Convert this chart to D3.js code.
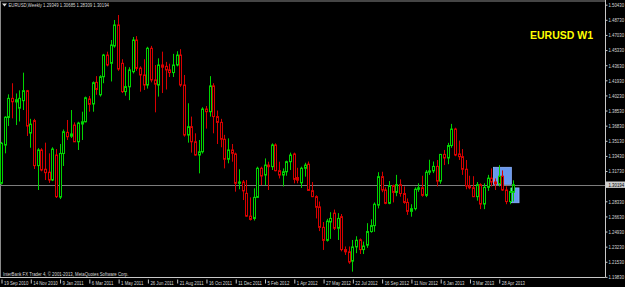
<!DOCTYPE html>
<html>
<head>
<meta charset="utf-8">
<script src="https://cdn.jsdelivr.net/npm/d3@7"></script>
<style>
body { margin: 0; background: #000; }
svg { display: block; }
text { font-family: "Liberation Sans", Arial, sans-serif; }
</style>
</head>
<body>
<div id="chart"></div>
<script>
//Chart data (weekly EURUSD candles, first bar = week of 19 Sep 2010)
var symbol = "EURUSD";
var period = "Weekly";
var tag = "EURUSD W1";
var copyright = "InterBank FX Trader 4, \u00a9 2001-2013, MetaQuotes Software Corp.";

var open = [1.3035, 1.3465, 1.3775, 1.3990, 1.3950, 1.3880, 1.3964, 1.4076, 1.3600, 1.3740,
    1.3234, 1.3410, 1.3193, 1.3160, 1.3072, 1.3353, 1.2880, 1.3370, 1.3608, 1.3565,
    1.3690, 1.3502, 1.3702, 1.3727, 1.3983, 1.3927, 1.4170, 1.4030, 1.4233, 1.4477,
    1.4384, 1.4579, 1.4815, 1.4384, 1.4066, 1.4120, 1.4290, 1.4646, 1.4330, 1.4253,
    1.4140, 1.4553, 1.4197, 1.4140, 1.4365, 1.4350, 1.4310, 1.4280, 1.4365, 1.4477,
    1.4140, 1.3578, 1.3672, 1.3502, 1.3353, 1.3390, 1.3870, 1.3840, 1.4130, 1.3785,
    1.3720, 1.3530, 1.3306, 1.3410, 1.3365, 1.3035, 1.3050, 1.2922, 1.2666, 1.2640,
    1.2877, 1.3204, 1.3128, 1.3240, 1.3222, 1.3466, 1.3177, 1.3128, 1.3165, 1.3278,
    1.3365, 1.3100, 1.3040, 1.3204, 1.3250, 1.2952, 1.2885, 1.2770, 1.2540, 1.2394,
    1.2600, 1.2700, 1.2530, 1.2660, 1.2290, 1.2265, 1.2160, 1.2320, 1.2400, 1.2290,
    1.2340, 1.2493, 1.2560, 1.2790, 1.3110, 1.2960, 1.2810, 1.3008, 1.2933, 1.3020,
    1.2920, 1.2820, 1.2720, 1.2750, 1.2968, 1.2985, 1.2900, 1.3160, 1.3175, 1.3225,
    1.3060, 1.3360, 1.3320, 1.3460, 1.3645, 1.3365, 1.3335, 1.3193, 1.3005, 1.2985,
    1.2885, 1.3020, 1.2802, 1.2990, 1.3093, 1.3050, 1.3030, 1.3115, 1.2960, 1.2830,
    1.29349];
var high = [1.3500, 1.3790, 1.4035, 1.4160, 1.4045, 1.4080, 1.4279, 1.4085, 1.3760, 1.3760,
    1.3430, 1.3430, 1.3492, 1.3372, 1.3440, 1.3420, 1.3477, 1.3640, 1.3747, 1.3859,
    1.3720, 1.3727, 1.3840, 1.4010, 1.4017, 1.4180, 1.4240, 1.4250, 1.4490, 1.4515,
    1.4646, 1.4871, 1.4927, 1.4430, 1.4345, 1.4340, 1.4680, 1.4690, 1.4350, 1.4430,
    1.4570, 1.4580, 1.4365, 1.4440, 1.4515, 1.4400, 1.4380, 1.4490, 1.4520, 1.4543,
    1.4253, 1.3935, 1.3785, 1.3597, 1.3522, 1.3890, 1.3904, 1.4240, 1.4160, 1.3853,
    1.3760, 1.3580, 1.3540, 1.3477, 1.3380, 1.3193, 1.3072, 1.3072, 1.2877, 1.2979,
    1.3222, 1.3222, 1.3315, 1.3278, 1.3484, 1.3484, 1.3278, 1.3203, 1.3290, 1.3380,
    1.3380, 1.3210, 1.3222, 1.3266, 1.3280, 1.3050, 1.2900, 1.2830, 1.2600, 1.2636,
    1.2710, 1.2740, 1.2700, 1.2690, 1.2325, 1.2325, 1.2398, 1.2440, 1.2415, 1.2380,
    1.2587, 1.2630, 1.2820, 1.3160, 1.3165, 1.2990, 1.3060, 1.3020, 1.3130, 1.3080,
    1.3000, 1.2865, 1.2800, 1.2990, 1.3035, 1.3120, 1.3185, 1.3300, 1.3280, 1.3297,
    1.3365, 1.3410, 1.3490, 1.3703, 1.3660, 1.3515, 1.3420, 1.3297, 1.3120, 1.3115,
    1.3050, 1.3035, 1.3035, 1.3130, 1.3203, 1.3090, 1.3240, 1.3180, 1.3000, 1.2985,
    1.30685];
var low = [1.3020, 1.3372, 1.3680, 1.3765, 1.3690, 1.3730, 1.3859, 1.3567, 1.3435, 1.3196,
    1.2960, 1.3170, 1.3072, 1.3040, 1.3060, 1.2870, 1.2858, 1.3230, 1.3522, 1.3545,
    1.3500, 1.3410, 1.3522, 1.3720, 1.3840, 1.3840, 1.4030, 1.4010, 1.4160, 1.4350,
    1.4180, 1.4560, 1.4300, 1.4050, 1.4020, 1.3970, 1.4270, 1.4300, 1.4065, 1.4084,
    1.4100, 1.4170, 1.3833, 1.4010, 1.4050, 1.4090, 1.4230, 1.4230, 1.4350, 1.4120,
    1.3560, 1.3492, 1.3380, 1.3345, 1.3147, 1.3370, 1.3650, 1.3785, 1.3597, 1.3477,
    1.3440, 1.3203, 1.3260, 1.3278, 1.2941, 1.2968, 1.2847, 1.2658, 1.2617, 1.2617,
    1.2870, 1.3015, 1.3015, 1.2960, 1.3185, 1.3170, 1.3090, 1.3000, 1.3120, 1.3185,
    1.3035, 1.3035, 1.2983, 1.3110, 1.2950, 1.2880, 1.2640, 1.2498, 1.2286, 1.2380,
    1.2410, 1.2510, 1.2398, 1.2270, 1.2230, 1.2130, 1.2042, 1.2250, 1.2240, 1.2240,
    1.2310, 1.2480, 1.2490, 1.2753, 1.2935, 1.2800, 1.2800, 1.2820, 1.2890, 1.2885,
    1.2805, 1.2680, 1.2660, 1.2730, 1.2940, 1.2885, 1.2880, 1.3130, 1.3150, 1.3000,
    1.3030, 1.3240, 1.3250, 1.3435, 1.3340, 1.3297, 1.3130, 1.2968, 1.2968, 1.2880,
    1.2840, 1.2745, 1.2745, 1.2950, 1.3000, 1.2960, 1.3000, 1.2950, 1.2800, 1.2800,
    1.28309];
var close = [1.3485, 1.3778, 1.3990, 1.3952, 1.3975, 1.3990, 1.4076, 1.3679, 1.3700, 1.3234,
    1.3410, 1.3185, 1.3155, 1.3072, 1.3420, 1.2885, 1.3371, 1.3615, 1.3559, 1.3590,
    1.3502, 1.3712, 1.3727, 1.3997, 1.3923, 1.4166, 1.4090, 1.4233, 1.4477, 1.4365,
    1.4590, 1.4815, 1.4320, 1.4066, 1.4122, 1.4310, 1.4646, 1.4327, 1.4253, 1.4140,
    1.4553, 1.4197, 1.4150, 1.4365, 1.4340, 1.4310, 1.4280, 1.4365, 1.4477, 1.4140,
    1.3578, 1.3672, 1.3502, 1.3353, 1.3390, 1.3870, 1.3840, 1.4130, 1.3785, 1.3720,
    1.3530, 1.3306, 1.3410, 1.3372, 1.3035, 1.3050, 1.2950, 1.2666, 1.2629, 1.2877,
    1.3204, 1.3117, 1.3240, 1.3222, 1.3466, 1.3177, 1.3128, 1.3165, 1.3278, 1.3353,
    1.3080, 1.3070, 1.3204, 1.3240, 1.2955, 1.2885, 1.2766, 1.2540, 1.2394, 1.2610,
    1.2640, 1.2530, 1.2640, 1.2290, 1.2265, 1.2150, 1.2320, 1.2395, 1.2290, 1.2330,
    1.2493, 1.2560, 1.2800, 1.3110, 1.2960, 1.2810, 1.3008, 1.2933, 1.3020, 1.2920,
    1.2820, 1.2720, 1.2750, 1.2968, 1.2985, 1.2900, 1.3160, 1.3175, 1.3225, 1.3060,
    1.3360, 1.3320, 1.3460, 1.3645, 1.3353, 1.3335, 1.3193, 1.3005, 1.2985, 1.2885,
    1.3020, 1.2802, 1.2990, 1.3093, 1.3050, 1.3030, 1.3115, 1.2960, 1.2830, 1.2943,
    1.30194];

//Time labels, one every 8 bars
var tickLabels = ["19 Sep 2010", "14 Nov 2010", "9 Jan 2011", "6 Mar 2011", "1 May 2011",
    "26 Jun 2011", "21 Aug 2011", "16 Oct 2011", "11 Dec 2011", "5 Feb 2012", "1 Apr 2012",
    "27 May 2012", "22 Jul 2012", "16 Sep 2012", "11 Nov 2012", "6 Jan 2013", "3 Mar 2013",
    "28 Apr 2013"];
var priceTicks = [1.50430, 1.48730, 1.47030, 1.45330, 1.43630, 1.41930, 1.40230, 1.38530,
    1.36830, 1.35130, 1.33430, 1.31730, 1.28330, 1.26630, 1.24930, 1.23230, 1.21530, 1.19830];

//Blue rectangle objects (bar index span, price span)
var boxStart = [134.4, 139.3];
var boxEnd = [139.3, 141.4];
var boxTop = [1.3215, 1.2983];
var boxBottom = [1.3024, 1.2817];

//Global settings
var width = 625, height = 287;
var axisX = 605.5, axisY = 277.5;
var bullColor = "#00d400", bearColor = "#d80000";
var textColor = "#d8d8d8";
var squeeze = 0.83;

var svg = d3.select("#chart").append("svg")
    .attr("width", width)
    .attr("height", height)
    .style("background", "#000");

var x = d3.scaleLinear().domain([0, 140]).range([1.5, 513.9]);
var y = d3.scaleLinear().domain([1.19830, 1.50430]).range([276.9, 4.7]);

var bars = d3.range(open.length).map(function (i) {
    return { i: i, o: open[i], h: high[i], l: low[i], c: close[i] };
});

//Frame
svg.append("line").attr("x1", 0).attr("x2", axisX).attr("y1", 1).attr("y2", 1)
    .attr("stroke", "#8a8a8a");
svg.append("line").attr("x1", 0.5).attr("x2", 0.5).attr("y1", 1).attr("y2", axisY)
    .attr("stroke", "#8a8a8a");

//Rectangles (behind candles)
svg.append("g").selectAll("rect")
    .data(boxStart)
    .enter()
    .append("rect")
    .attr("x", function (d) { return x(d); })
    .attr("width", function (d, i) { return x(boxEnd[i]) - x(d); })
    .attr("y", function (d, i) { return y(boxTop[i]); })
    .attr("height", function (d, i) { return y(boxBottom[i]) - y(boxTop[i]); })
    .attr("fill", "#6898ee")
    .attr("stroke", "#8fb4ff")
    .attr("stroke-width", 0.8);

//Bid line
var bid = close[close.length - 1];
svg.append("line")
    .attr("x1", 0).attr("x2", axisX)
    .attr("y1", Math.round(y(bid)) + 0.5).attr("y2", Math.round(y(bid)) + 0.5)
    .attr("stroke", "#7c7c7c");

//Candles
function cx(d) { return Math.floor(x(d.i)) + 0.5; }
function col(d) { return d.c >= d.o ? bullColor : bearColor; }

var candles = svg.append("g").selectAll("g")
    .data(bars)
    .enter()
    .append("g");

candles.append("line")
    .attr("x1", cx).attr("x2", cx)
    .attr("y1", function (d) { return y(d.h); })
    .attr("y2", function (d) { return y(d.l); })
    .attr("stroke", col);

candles.append("rect")
    .attr("x", function (d) { return cx(d) - 1; })
    .attr("width", 2)
    .attr("y", function (d) { return y(Math.max(d.o, d.c)); })
    .attr("height", function (d) { return Math.max(1, Math.abs(y(d.o) - y(d.c))); })
    .attr("fill", "#000")
    .attr("stroke", col);

//Price axis
svg.append("line").attr("x1", axisX).attr("x2", axisX).attr("y1", 0).attr("y2", axisY)
    .attr("stroke", "#c8c8c8");
var yAxis = svg.append("g")
    .attr("transform", "translate(" + axisX + ",0)")
    .call(d3.axisRight(y).tickValues(priceTicks).tickFormat(d3.format(".5f")).tickSize(2));
yAxis.select(".domain").remove();
yAxis.selectAll("line").attr("stroke", "#c8c8c8");
yAxis.selectAll("text")
    .attr("x", 3 / squeeze)
    .attr("dy", "0.35em")
    .attr("transform", "scale(" + squeeze + ",1)")
    .style("font-size", "5.2px")
    .style("font-family", "Liberation Sans, Arial, sans-serif")
    .attr("fill", textColor);

//Bid label
var bidG = svg.append("g").attr("transform", "translate(" + (axisX + 0.5) + "," + y(bid) + ")");
bidG.append("rect").attr("x", 0).attr("y", -3.2).attr("width", width - axisX).attr("height", 6.4)
    .attr("fill", "#cfcfcf");
bidG.append("text")
    .attr("x", 2.5 / squeeze).attr("dy", "0.35em")
    .attr("transform", "scale(" + squeeze + ",1)")
    .style("font-size", "5.2px")
    .attr("fill", "#000")
    .text(d3.format(".5f")(bid));

//Time axis
svg.append("line").attr("x1", 0).attr("x2", axisX).attr("y1", axisY).attr("y2", axisY)
    .attr("stroke", "#c8c8c8");
var xAxis = svg.append("g")
    .attr("transform", "translate(0," + axisY + ")")
    .call(d3.axisBottom(x)
        .tickValues(tickLabels.map(function (t, k) { return k * 8; }))
        .tickFormat(function (d, k) { return tickLabels[k]; })
        .tickSize(6));
xAxis.select(".domain").remove();
xAxis.selectAll("line").attr("stroke", "#c8c8c8").attr("y1", 2);
xAxis.selectAll("text")
    .attr("text-anchor", "start")
    .attr("x", 2 / squeeze)
    .attr("y", 3.6)
    .attr("dy", "0.71em")
    .attr("transform", "scale(" + squeeze + ",1)")
    .style("font-size", "5.2px")
    .style("font-family", "Liberation Sans, Arial, sans-serif")
    .attr("fill", textColor);

//Header
var last = bars[bars.length - 1];
svg.append("path").attr("d", "M2,3.5L7,3.5L4.5,6.5Z").attr("fill", textColor);
svg.append("text")
    .attr("transform", "translate(8.5,7) scale(" + squeeze + ",1)")
    .style("font-size", "5.2px")
    .attr("fill", textColor)
    .text(symbol + "," + period + "  " + [last.o, last.h, last.l, last.c].map(d3.format(".5f")).join(" "));

//Copyright
svg.append("text")
    .attr("transform", "translate(3,276) scale(" + squeeze + ",1)")
    .style("font-size", "5.2px")
    .attr("fill", textColor)
    .text(copyright);

//Tag
svg.append("text")
    .attr("x", 530).attr("y", 39.3)
    .attr("textLength", 63)
    .attr("lengthAdjust", "spacingAndGlyphs")
    .style("font-size", "11.5px")
    .style("font-weight", "bold")
    .attr("fill", "#ffff00")
    .text(tag);
</script>
</body>
</html>
